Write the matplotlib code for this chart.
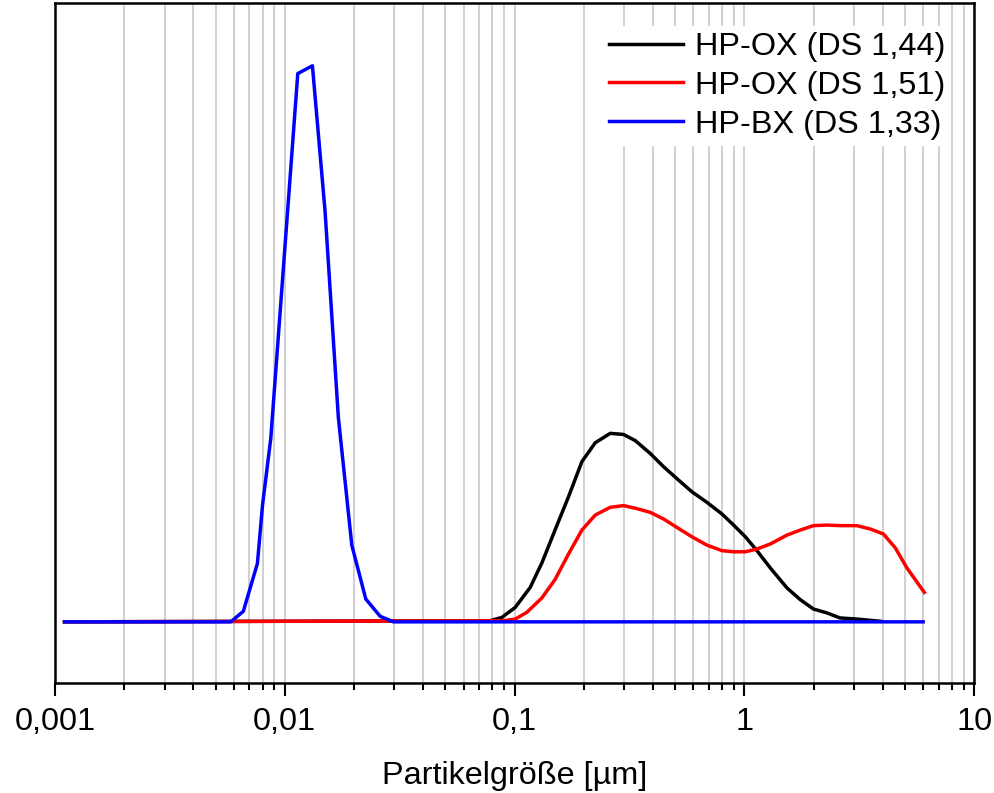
import matplotlib
matplotlib.use("Agg")
import matplotlib.pyplot as plt
from matplotlib.ticker import FixedLocator, LogLocator, NullFormatter, NullLocator

plt.rcParams['font.family'] = ['Liberation Sans', 'DejaVu Sans']

# HP-BX (DS 1,33)
bx_size = [0.0011, 0.00582, 0.0066, 0.0076, 0.0080, 0.00869, 0.01139, 0.01319,
           0.01498, 0.0171, 0.01957, 0.02252, 0.026, 0.0297, 6.0]
bx_val = [0, 0, 1.9, 10.5, 21, 33, 98.6, 100, 73.7, 36.8, 13.8, 4.1, 1.0, 0, 0]

# HP-OX (DS 1,44)
ox44_size = [0.0011, 0.0783, 0.0881, 0.1007, 0.117, 0.1315, 0.150, 0.1717, 0.1963,
             0.2244, 0.2608, 0.298, 0.335, 0.389, 0.445, 0.517, 0.591, 0.687,
             0.799, 0.898, 1.01, 1.135, 1.297, 1.533, 1.75, 2.0, 2.29, 2.61,
             3.09, 3.91]
ox44_val = [0, 0.2, 0.8, 2.6, 6.2, 10.6, 16.5, 22.5, 28.8, 32.2, 33.9, 33.7, 32.6,
            30.3, 27.9, 25.5, 23.4, 21.5, 19.4, 17.4, 15.3, 12.8, 9.7, 6.1, 4.0,
            2.3, 1.6, 0.7, 0.5, 0.1]

# HP-OX (DS 1,51)
ox51_size = [0.0011, 0.0895, 0.1007, 0.113, 0.1315, 0.150, 0.1717, 0.1963, 0.2244,
             0.2608, 0.298, 0.338, 0.389, 0.445, 0.517, 0.591, 0.687, 0.799,
             0.898, 1.01, 1.135, 1.297, 1.533, 1.75, 2.0, 2.29, 2.61, 3.09, 3.53,
             4.03, 4.54, 5.1, 6.07]
ox51_val = [0, 0.2, 0.5, 1.7, 4.3, 7.6, 12.2, 16.5, 19.2, 20.6, 20.9, 20.4, 19.7,
            18.5, 16.8, 15.3, 13.8, 12.8, 12.6, 12.6, 13.1, 14.0, 15.6, 16.5,
            17.3, 17.4, 17.3, 17.3, 16.7, 15.8, 13.3, 9.7, 5.3]

major_ticks = [0.001, 0.01, 0.1, 1, 10]
major_labels = ["0,001", "0,01", "0,1", "1", "10"]

fig = plt.figure(figsize=(9.95, 7.93), dpi=100)
ax = fig.add_axes([0.0553, 0.1387, 0.9237, 0.8576])

ax.plot(ox44_size, ox44_val, color="black", lw=2.5, label="HP-OX (DS 1,44)", zorder=3)
ax.plot(ox51_size, ox51_val, color="#ff0000", lw=2.5, label="HP-OX (DS 1,51)", zorder=3)
ax.plot(bx_size, bx_val, color="#0000ff", lw=2.5, label="HP-BX (DS 1,33)", zorder=4)

ax.set_xscale("log")
ax.set_xlim(0.001, 10)
ax.set_ylim(-11.0, 111.3)

ax.xaxis.set_major_locator(FixedLocator(major_ticks))
ax.set_xticklabels(major_labels)
ax.xaxis.set_minor_locator(LogLocator(base=10, subs=range(2, 10)))
ax.xaxis.set_minor_formatter(NullFormatter())
ax.yaxis.set_major_locator(NullLocator())
ax.yaxis.set_minor_locator(NullLocator())

ax.grid(True, which="both", axis="x", color="#c4c4c4", lw=1.1, zorder=0)
ax.set_axisbelow(True)

ax.tick_params(axis="x", which="major", length=9.5, width=1.5, direction="out",
               labelsize=23.3, pad=8)
ax.tick_params(axis="x", which="minor", length=5, width=1.5, direction="out")
for s in ax.spines.values():
    s.set_linewidth(1.8)

ax.set_xlabel("Partikelgröße [µm]", fontsize=23.3, labelpad=17)

leg = ax.legend(loc="upper right", fontsize=23.3, frameon=True, framealpha=1,
                edgecolor="none", handlelength=2.3, handletextpad=0.35,
                labelspacing=0.27, borderaxespad=0.7, borderpad=0.2)
leg.get_frame().set_linewidth(0)

fig.savefig("out.png", dpi=100)
